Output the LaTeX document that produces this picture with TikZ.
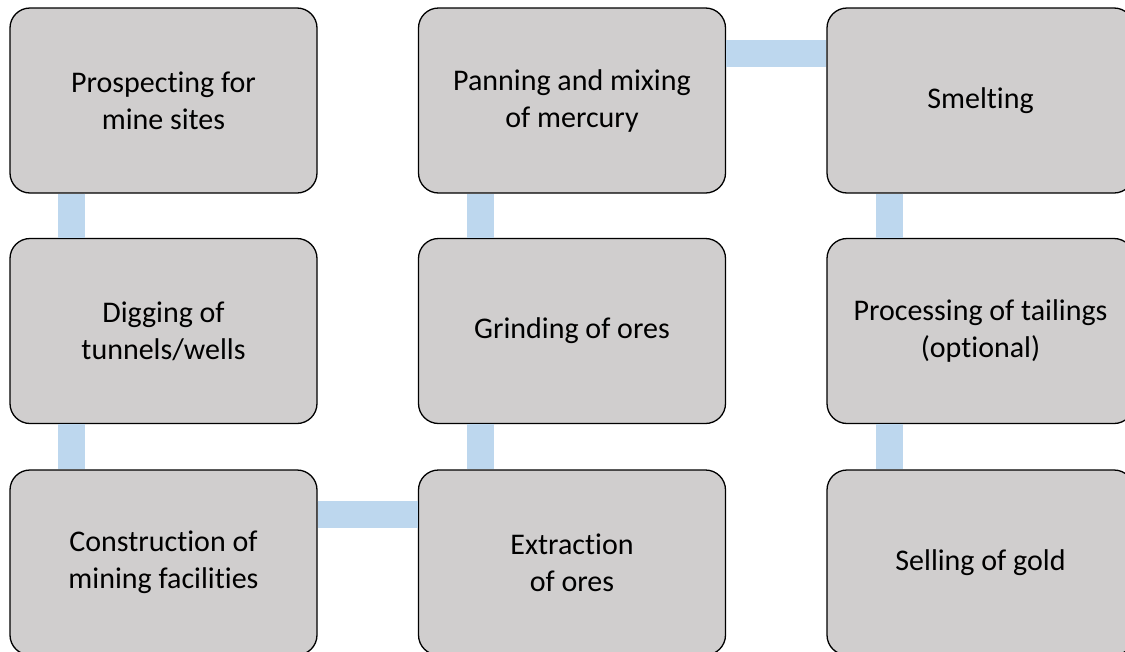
\documentclass[tikz,border=0pt]{standalone}
\usepackage{fontspec}
\setmainfont{Carlito}[Ligatures=NoCommon]
\definecolor{boxfill}{HTML}{D0CECE}
\definecolor{connblue}{HTML}{BDD7EE}
\begin{document}
\begin{tikzpicture}[x=1pt,y=-1pt,
  stepbox/.style={draw=black, line width=1.3pt, fill=boxfill, rounded corners=20pt,
    minimum width=307pt, minimum height=185pt, align=center, inner sep=4pt,
    font=\fontsize{30}{37}\selectfont},
  conn/.style={draw=connblue, line width=27pt}]
\useasboundingbox (0,0) rectangle (1125,651);
\clip (0,0) rectangle (1125,651);
% nodes
\node[stepbox] (p1) at (163.5,100.5) {Prospecting for\\mine sites};
\node[stepbox] (p2) at (163.5,331) {Digging of\\tunnels/wells};
\node[stepbox] (p3) at (163.5,562.5) {Construction of\\mining facilities};
\node[stepbox] (p4) at (572,562.5) {Extraction\\of ores};
\node[stepbox] (p5) at (572,331) {Grinding of ores};
\node[stepbox] (p6) at (572,100.5) {Panning and mixing\\of mercury};
\node[stepbox] (p7) at (980.5,100.5) {Smelting};
\node[stepbox] (p8) at (980.5,331) {Processing of tailings\\(optional)};
\node[stepbox] (p9) at (980.5,562.5) {Selling of gold};
% connectors
\path[conn] ([xshift=62pt]p1.south west) -- ([xshift=62pt]p2.north west);
\path[conn] ([xshift=62pt]p2.south west) -- ([xshift=62pt]p3.north west);
\path[conn] ([yshift=-45pt]p3.north east) -- ([yshift=-45pt]p4.north west);
\path[conn] ([xshift=63pt]p4.north west) -- ([xshift=63pt]p5.south west);
\path[conn] ([xshift=63pt]p5.north west) -- ([xshift=63pt]p6.south west);
\path[conn] ([yshift=-46pt]p6.north east) -- ([yshift=-46pt]p7.north west);
\path[conn] ([xshift=63pt]p7.south west) -- ([xshift=63pt]p8.north west);
\path[conn] ([xshift=63pt]p8.south west) -- ([xshift=63pt]p9.north west);
\end{tikzpicture}
\end{document}
